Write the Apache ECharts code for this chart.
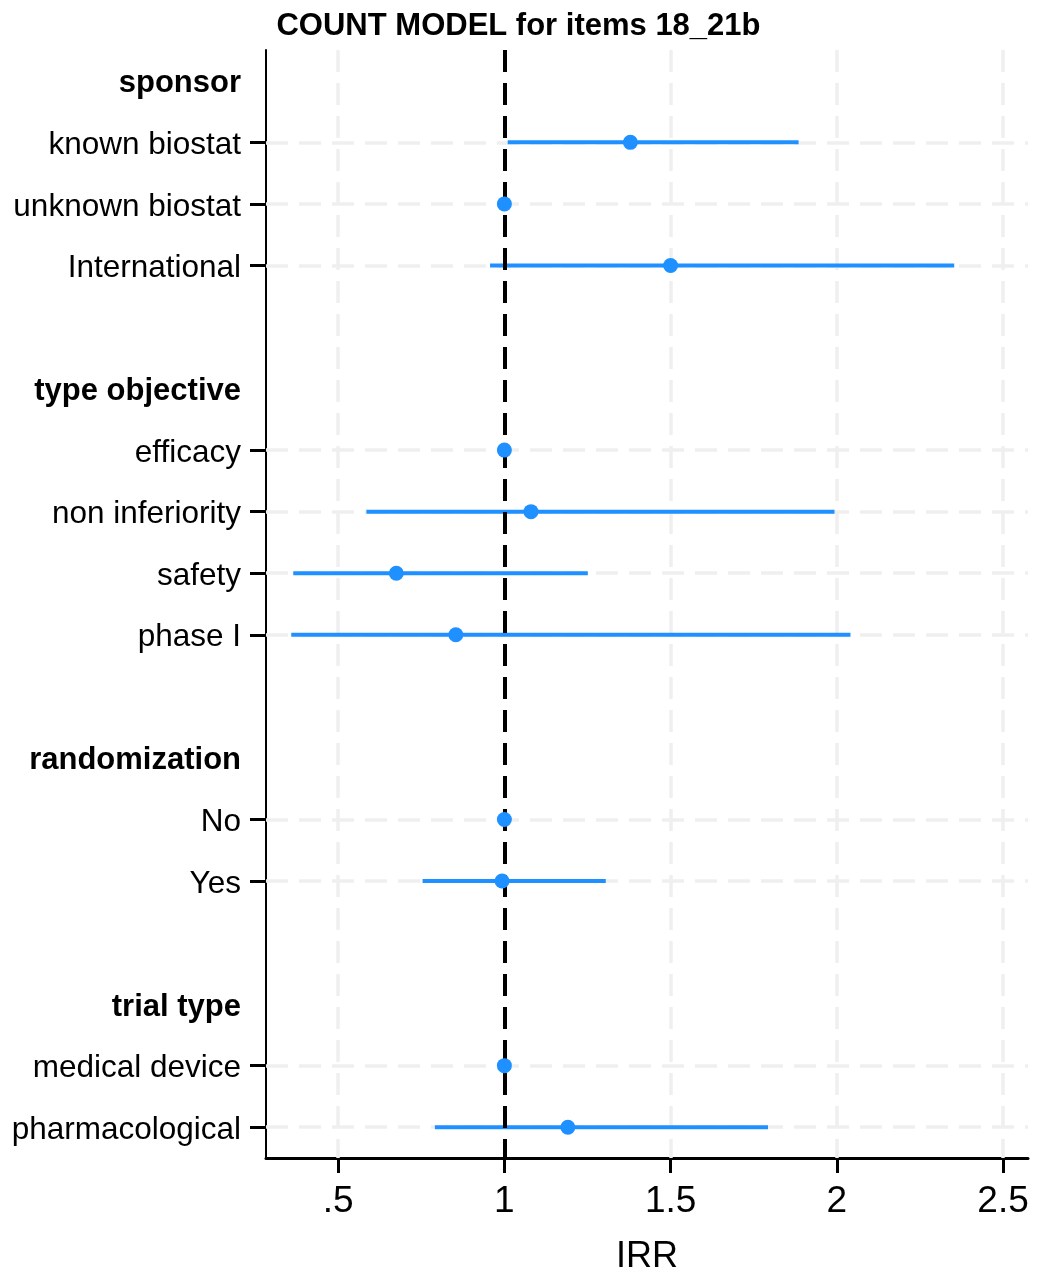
<!DOCTYPE html>
<html>
<head>
<meta charset="utf-8">
<script src="https://cdn.jsdelivr.net/npm/echarts@6/dist/echarts.min.js"></script>
<style>html,body{margin:0;padding:0;background:#fff}#main{width:1037px;height:1273px}</style>
</head>
<body>
<div id="main"></div>
<script>
// ---- data ----
const titleText = 'COUNT MODEL for items 18_21b';
const xAxisName = 'IRR';
const categories = ['sponsor', 'known biostat', 'unknown biostat', 'International', ' ',
  'type objective', 'efficacy', 'non inferiority', 'safety', 'phase I', '  ',
  'randomization', 'No', 'Yes', '   ',
  'trial type', 'medical device', 'pharmacological'];
const headers = ['sponsor', 'type objective', 'randomization', 'trial type'];
const estimates = [null, 1.379, 1.00, 1.500, null,
  null, 1.00, 1.080, 0.675, 0.854, null,
  null, 1.00, 0.993, null,
  null, 1.00, 1.191];
const lower = [null, 1.010, null, 0.957, null,
  null, null, 0.585, 0.365, 0.359, null,
  null, null, 0.754, null,
  null, null, 0.791];
const upper = [null, 1.885, null, 2.353, null,
  null, null, 1.993, 1.251, 2.041, null,
  null, null, 1.305, null,
  null, null, 1.793];
const xTickValues = [0.5, 1, 1.5, 2, 2.5];
const xTickLabels = ['.5', '1', '1.5', '2', '2.5'];
const referenceValue = 1;
const xMin = 0.283, xMax = 2.575;

// ---- build ----
const FONT = '"Liberation Sans", Arial, Helvetica, sans-serif';
const BLUE = '#1E90FF';
const isItem = i => !headers.includes(categories[i]) && categories[i].trim() !== '';

const ciData = [];
const ptData = [];
categories.forEach((c, i) => {
  if (lower[i] != null && upper[i] != null) ciData.push([lower[i], upper[i], i]);
  if (estimates[i] != null) ptData.push([estimates[i], i]);
});

const gridLines = [
  ...xTickValues.filter(v => v !== referenceValue).map(v => ({ xAxis: v })),
  ...categories.filter((c, i) => isItem(i)).map(c => ({ yAxis: c }))
];

const chart = echarts.init(document.getElementById('main'), null, { renderer: 'canvas' });
chart.setOption({
  animation: false,
  backgroundColor: '#fff',
  title: {
    text: titleText, left: 'center', top: 6,
    textStyle: { fontFamily: FONT, fontWeight: 'bold', fontSize: 31, color: '#000' }
  },
  grid: { left: 266, right: 9, top: 50, bottom: 115, containLabel: false, outerBoundsMode: 'none' },
  xAxis: {
    type: 'value', min: xMin, max: xMax,
    axisLine: { show: true, onZero: false, lineStyle: { color: '#000', width: 3 } },
    axisTick: { show: true, customValues: xTickValues, length: 15, lineStyle: { color: '#000', width: 3 } },
    axisLabel: {
      customValues: xTickValues, margin: 25, fontSize: 37, color: '#000', fontFamily: FONT,
      formatter: v => {
        const k = xTickValues.findIndex(t => Math.abs(t - v) < 1e-9);
        return k >= 0 ? xTickLabels[k] : '';
      }
    },
    splitLine: { show: false },
    name: xAxisName, nameLocation: 'middle', nameGap: 81,
    nameTextStyle: { fontSize: 36, color: '#000', fontFamily: FONT }
  },
  yAxis: {
    type: 'category', inverse: true, data: categories,
    axisLine: { show: true, lineStyle: { color: '#000', width: 2 } },
    axisTick: { show: true, alignWithLabel: true, interval: idx => isItem(idx), length: 16, lineStyle: { color: '#000', width: 3 } },
    axisLabel: {
      interval: 0, margin: 25, fontSize: 31.5, color: '#000', fontFamily: FONT,
      padding: [6, 0, 0, 0],
      formatter: v => headers.includes(v) ? '{h|' + v + '}' : v.trim(),
      rich: { h: { fontWeight: 'bold', fontSize: 31, fontFamily: FONT, color: '#000' } }
    },
    splitLine: { show: false }
  },
  series: [
    {
      type: 'scatter', data: [], z: 1, silent: true,
      markLine: {
        z: 1, silent: true, symbol: ['none', 'none'], label: { show: false },
        emphasis: { disabled: true },
        lineStyle: { color: '#EFEFEF', width: 3.5, type: [22, 11] },
        data: gridLines
      }
    },
    {
      type: 'custom', z: 2, silent: true, data: ciData,
      encode: { x: [0, 1], y: 2 },
      renderItem: (params, api) => {
        const a = api.coord([api.value(0), api.value(2)]);
        const b = api.coord([api.value(1), api.value(2)]);
        return { type: 'line', shape: { x1: a[0], y1: a[1], x2: b[0], y2: b[1] },
          style: { stroke: BLUE, lineWidth: 4 } };
      }
    },
    {
      type: 'scatter', data: [], z: 3, silent: true,
      markLine: {
        z: 3, silent: true, symbol: ['none', 'none'], label: { show: false },
        emphasis: { disabled: true },
        lineStyle: { color: '#000', width: 4, type: [22, 11] },
        data: [{ xAxis: referenceValue }]
      }
    },
    {
      type: 'scatter', z: 4, silent: true, data: ptData, symbol: 'circle', symbolSize: 15,
      itemStyle: { color: BLUE, opacity: 1 }
    }
  ]
});
</script>
</body>
</html>
